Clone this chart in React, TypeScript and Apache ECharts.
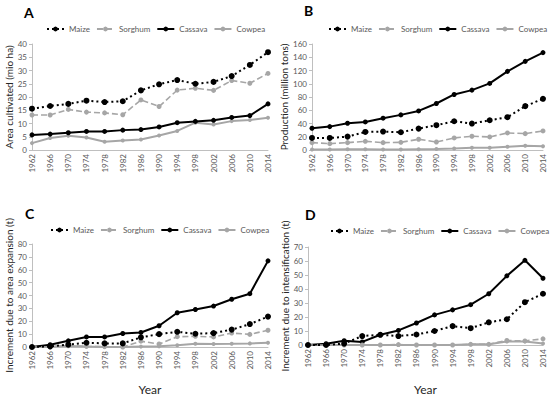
import React, { useEffect, useRef } from "react";
import * as echarts from "echarts";

const years = ["1962","1966","1970","1974","1978","1982","1986","1990","1994","1998","2002","2006","2010","2014"];

// Panel A: Area cultivated (mio ha)
const areaMaize = [15.6,16.6,17.4,18.6,18.1,18.4,22.5,24.8,26.4,25.0,25.7,27.9,32.1,36.9];
const areaSorghum = [13.2,13.2,15.3,14.3,14.0,13.3,18.9,16.4,22.6,23.3,22.5,26.2,25.2,28.9];
const areaCassava = [5.7,6.0,6.5,7.0,7.0,7.5,7.7,8.7,10.3,10.8,11.2,12.3,13.0,17.4];
const areaCowpea = [2.6,4.5,5.4,4.7,3.1,3.6,4.0,5.5,7.2,10.3,9.6,10.9,11.3,12.2];

// Panel B: Production (million tons)
const prodMaize = [18.2,18.2,20.2,27.3,27.8,26.8,32.3,37.4,43.4,39.9,44.9,49.5,66.2,77.3];
const prodSorghum = [11.1,9.6,11.1,13.1,11.1,11.6,16.2,12.1,18.2,20.7,19.7,25.8,24.7,28.8];
const prodCassava = [32.8,35.3,40.4,42.4,48.0,53.0,59.0,70.2,83.8,90.4,100.5,118.7,133.8,147.0];
const prodCowpea = [0.6,0.9,1.1,1.0,0.7,0.9,1.2,1.5,2.3,3.5,3.5,5.0,6.5,5.5];

// Panel C: Increment due to area expansion (t)
const expMaize = [0,0.5,1.8,3.3,2.8,2.8,7.5,10.0,11.8,10.3,10.8,13.5,17.8,23.6];
const expSorghum = [0,0,1.0,0.5,0.3,0,4.5,2.3,8.0,8.3,7.8,10.8,9.8,13.0];
const expCassava = [0,1.8,4.8,7.8,7.8,10.5,11.3,16.5,26.6,29.1,31.8,37.1,41.4,66.9];
const expCowpea = [0,0.3,0.8,0.3,0,0,0.3,0.5,1.3,2.5,2.3,2.5,2.8,3.3];

// Panel D: Increment due to intensification (t)
const intMaize = [0,0,1.0,6.4,7.3,6.4,7.5,10.0,13.5,12.0,16.2,18.4,30.6,36.6];
const intSorghum = [0,0,0,0,0,0.3,0,0,0,0.5,0.5,3.2,2.9,4.4];
const intCassava = [0,0.9,3.1,2.2,7.3,10.4,15.7,21.5,25.1,28.8,36.6,49.4,60.5,47.7];
const intCowpea = [0,0,0,0,0,0,0,0,0,0.5,0.5,2.5,2.5,1.0];

const names = ["Maize", "Sorghum", "Cassava", "Cowpea"];
const FONT = "Lato";
const TXT = "#595959";
const GRAY = "#a6a6a6";

const panels = [
  { letter: "A", yName: "Area cultivated (mio ha)", max: 40, interval: 5, data: [areaMaize, areaSorghum, areaCassava, areaCowpea],
    grid: { left: 32, top: 44, width: 236, height: 106 }, legend: { left: 46, top: 25 }, letterPos: [29, 12], year: false },
  { letter: "B", yName: "Production (million tons)", max: 160, interval: 20, data: [prodMaize, prodSorghum, prodCassava, prodCowpea],
    grid: { left: 312, top: 44, width: 231, height: 106 }, legend: { left: 328, top: 25 }, letterPos: [309, 10], year: false },
  { letter: "C", yName: "Increment due to area expansion (t)", max: 80, interval: 10, data: [expMaize, expSorghum, expCassava, expCowpea],
    grid: { left: 32, top: 244, width: 236, height: 107 }, legend: { left: 50, top: 226 }, letterPos: [30, 213], year: true },
  { letter: "D", yName: "Increment due to intensification (t)", max: 70, interval: 10, data: [intMaize, intSorghum, intCassava, intCowpea],
    grid: { left: 308, top: 247, width: 235, height: 105 }, legend: { left: 330, top: 227 }, letterPos: [310, 214], year: true },
];

const styles = [
  { color: "#000", lineType: [2, 3] as any, width: 2, symbolSize: 6 },
  { color: GRAY, lineType: [6, 3] as any, width: 1.6, symbolSize: 5 },
  { color: "#000", lineType: "solid" as any, width: 2, symbolSize: 5 },
  { color: GRAY, lineType: "solid" as any, width: 2, symbolSize: 4 },
];

export default function App() {
  const ref = useRef<HTMLDivElement>(null);
  useEffect(() => {
    if (!ref.current) return;
    const chart = echarts.init(ref.current, null, { renderer: "svg" });
    const grid: any[] = [];
    const xAxis: any[] = [];
    const yAxis: any[] = [];
    const series: any[] = [];
    const legend: any[] = [];
    const graphic: any[] = [];
    panels.forEach((p, i) => {
      grid.push(p.grid);
      xAxis.push({
        type: "category", gridIndex: i, data: years, boundaryGap: false,
        axisLine: { lineStyle: { color: "#bfbfbf" } },
        axisTick: { show: false },
        axisLabel: { rotate: 90, fontSize: 8, color: TXT, fontFamily: FONT, margin: 4 },
        name: p.year ? "Year" : "", nameLocation: "middle", nameGap: i === 2 ? 36 : 38,
        nameTextStyle: { fontSize: 12, color: "#262626", fontFamily: FONT },
      });
      yAxis.push({
        type: "value", gridIndex: i, min: 0, max: p.max, interval: p.interval,
        axisLine: { show: true, lineStyle: { color: "#bfbfbf" } },
        axisTick: { show: true, length: 3, lineStyle: { color: "#bfbfbf" } },
        splitLine: { show: false },
        axisLabel: { fontSize: 8, color: TXT, fontFamily: FONT, margin: 5 },
        name: p.yName, nameLocation: "middle", nameGap: 18, nameRotate: 90,
        nameTextStyle: { fontSize: 10, color: "#262626", fontFamily: FONT },
      });
      legend.push({
        data: names, left: p.legend.left, top: p.legend.top, width: 240, orient: "horizontal",
        itemWidth: 17, itemHeight: 6, itemGap: 6,
        textStyle: { fontSize: 8, color: TXT, fontFamily: FONT },
        padding: 0,
      });
      p.data.forEach((d, k) => {
        const s = styles[k];
        series.push({
          type: "line", name: names[k], xAxisIndex: i, yAxisIndex: i, data: d,
          symbol: "circle", symbolSize: s.symbolSize, showSymbol: true,
          lineStyle: { color: s.color, width: s.width, type: s.lineType },
          itemStyle: { color: s.color },
          z: 10 - k,
        });
      });
      graphic.push({
        type: "text", left: p.letterPos[0] - 5, top: p.letterPos[1] - 7,
        style: { text: p.letter, fontSize: 14, fontWeight: "bold", fill: "#000", fontFamily: FONT },
      });
    });
    chart.setOption({
      animation: false,
      backgroundColor: "#fff",
      grid, xAxis, yAxis, series, legend, graphic,
    });
    return () => chart.dispose();
  }, []);
  return <div ref={ref} style={{ width: 550, height: 396, position: "absolute", left: 0, top: 0 }} />;
}
